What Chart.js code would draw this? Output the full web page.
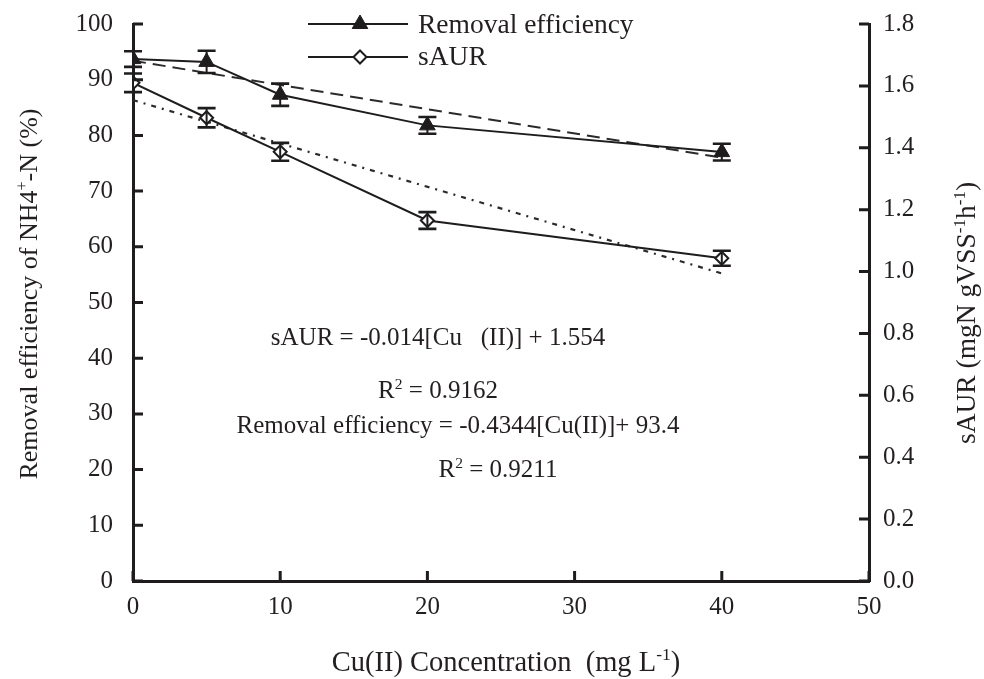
<!DOCTYPE html>
<html>
<head>
<meta charset="utf-8">
<script src="https://cdn.jsdelivr.net/npm/chart.js@4.4.1/dist/chart.umd.min.js"></script>
<style>
  html, body { margin: 0; padding: 0; background: #ffffff; }
  #wrap { width: 984px; height: 679px; position: relative; }
</style>
</head>
<body>
<div id="wrap"><canvas id="chart"></canvas></div>
<script>
// Cu(II) dose (mg/L) and the measured responses
const concentrations = [0, 5, 10, 20, 40];
const removalEfficiency = [93.7, 93.2, 87.3, 81.8, 77.0];   // %
const removalError = [1.4, 2.0, 2.0, 1.5, 1.5];
const sAUR = [1.610, 1.497, 1.387, 1.165, 1.043];           // mgN gVSS-1 h-1
const sAURError = [0.030, 0.031, 0.029, 0.027, 0.024];

// Linear fits, evaluated at both ends of the tested range
const trendX = [0, 40];
const removalTrend = [93.4, 76.0];
const sAURTrend = [1.554, 0.994];

// Axis ticks
const xTicks = [0, 10, 20, 30, 40, 50];
const leftTicks = [0, 10, 20, 30, 40, 50, 60, 70, 80, 90, 100];
const rightTicks = [0, 0.2, 0.4, 0.6, 0.8, 1.0, 1.2, 1.4, 1.6, 1.8];

const INK = '#1e1c1d';
const TEXT = '#231f20';
const SERIF = '"Liberation Serif", "Times New Roman", serif';

const pts = (xs, ys) => xs.map((x, i) => ({ x: x, y: ys[i] }));

// Draw a run of text pieces; pieces flagged sup are raised and shrunk.
function richText(ctx, parts, x, y, size, align) {
  ctx.save();
  ctx.fillStyle = TEXT;
  ctx.textBaseline = 'alphabetic';
  let w = 0;
  parts.forEach(p => {
    ctx.font = (p.sup ? size * 0.62 : size) + 'px ' + SERIF;
    w += ctx.measureText(p.t).width;
  });
  let cx = align === 'center' ? x - w / 2 : x;
  parts.forEach(p => {
    ctx.font = (p.sup ? size * 0.62 : size) + 'px ' + SERIF;
    ctx.textAlign = 'left';
    ctx.fillText(p.t, cx, p.sup ? y - size * 0.38 : y);
    cx += ctx.measureText(p.t).width;
  });
  ctx.restore();
}

// Error bars with caps, on top of the markers
const errorBars = {
  id: 'errorBars',
  afterDatasetsDraw(chart) {
    const ctx = chart.ctx;
    const sets = [
      { idx: 0, err: removalError, vals: removalEfficiency, scale: chart.scales.y },
      { idx: 1, err: sAURError, vals: sAUR, scale: chart.scales.y2 }
    ];
    ctx.save();
    ctx.strokeStyle = INK;
    sets.forEach(s => {
      const meta = chart.getDatasetMeta(s.idx);
      meta.data.forEach((el, i) => {
        const x = el.x;
        const top = s.scale.getPixelForValue(s.vals[i] + s.err[i]);
        const bot = s.scale.getPixelForValue(s.vals[i] - s.err[i]);
        ctx.lineWidth = 2;
        ctx.beginPath();
        ctx.moveTo(x, top); ctx.lineTo(x, bot);
        ctx.stroke();
        ctx.lineWidth = 2.6;
        ctx.beginPath();
        ctx.moveTo(x - 9, top); ctx.lineTo(x + 9, top);
        ctx.moveTo(x - 9, bot); ctx.lineTo(x + 9, bot);
        ctx.stroke();
      });
    });
    ctx.restore();
  }
};

// Inward tick marks, legend, equations and axis titles
const decorations = {
  id: 'decorations',
  afterDraw(chart) {
    const ctx = chart.ctx;
    const { x, y, y2 } = chart.scales;
    const area = chart.chartArea;
    ctx.save();
    ctx.strokeStyle = INK;
    ctx.lineWidth = 3;
    ctx.beginPath();
    leftTicks.forEach(v => {
      const p = y.getPixelForValue(v);
      ctx.moveTo(area.left, p); ctx.lineTo(area.left + 10, p);
    });
    rightTicks.forEach(v => {
      const p = y2.getPixelForValue(v);
      ctx.moveTo(area.right, p); ctx.lineTo(area.right - 10, p);
    });
    xTicks.forEach(v => {
      const p = x.getPixelForValue(v);
      ctx.moveTo(p, area.bottom); ctx.lineTo(p, area.bottom - 10);
    });
    ctx.stroke();

    // legend
    const legendRows = [
      { ds: chart.data.datasets[0], y: 24, base: 33 },
      { ds: chart.data.datasets[1], y: 57, base: 65 }
    ];
    legendRows.forEach(r => {
      ctx.strokeStyle = INK;
      ctx.lineWidth = 2.2;
      ctx.beginPath();
      ctx.moveTo(308, r.y); ctx.lineTo(408, r.y);
      ctx.stroke();
      ctx.fillStyle = r.ds.pointBackgroundColor;
      ctx.strokeStyle = INK;
      ctx.lineWidth = r.ds.pointBorderWidth;
      Chart.helpers.drawPoint(ctx, {
        pointStyle: r.ds.pointStyle,
        radius: r.ds.pointRadius,
        rotation: 0,
        borderWidth: r.ds.pointBorderWidth
      }, 360, r.y);
      richText(ctx, [{ t: r.ds.label }], 418, r.base, 27.5, 'left');
    });

    // regression equations
    richText(ctx, [{ t: 'sAUR = -0.014[Cu   (II)] + 1.554' }], 438, 345, 25, 'center');
    richText(ctx, [{ t: 'R' }, { t: '2', sup: true }, { t: ' = 0.9162' }], 438, 398, 25, 'center');
    richText(ctx, [{ t: 'Removal efficiency = -0.4344[Cu(II)]+ 93.4' }], 458, 433, 25, 'center');
    richText(ctx, [{ t: 'R' }, { t: '2', sup: true }, { t: ' = 0.9211' }], 498, 477, 25, 'center');

    // axis titles
    richText(ctx, [{ t: 'Cu(II) Concentration  (mg L' }, { t: '-1', sup: true }, { t: ')' }], 506, 671, 28.5, 'center');

    ctx.save();
    ctx.translate(37, 294);
    ctx.rotate(-Math.PI / 2);
    richText(ctx, [{ t: 'Removal efficiency of NH4' }, { t: '+', sup: true }, { t: '-N (%)' }], 0, 0, 26, 'center');
    ctx.restore();

    ctx.save();
    ctx.translate(975, 313);
    ctx.rotate(-Math.PI / 2);
    richText(ctx, [{ t: 'sAUR (mgN gVSS' }, { t: '-1', sup: true }, { t: 'h' }, { t: '-1', sup: true }, { t: ')' }], 0, 0, 27.5, 'center');
    ctx.restore();

    ctx.restore();
  }
};

const tickFont = { family: SERIF, size: 25 };

new Chart(document.getElementById('chart'), {
  type: 'scatter',
  data: {
    datasets: [
      {
        label: 'Removal efficiency',
        data: pts(concentrations, removalEfficiency),
        yAxisID: 'y',
        showLine: true,
        borderColor: INK,
        borderWidth: 2,
        pointStyle: 'triangle',
        pointRadius: 9,
        pointBackgroundColor: INK,
        pointBorderColor: INK,
        pointBorderWidth: 1,
        order: 1
      },
      {
        label: 'sAUR',
        data: pts(concentrations, sAUR),
        yAxisID: 'y2',
        showLine: true,
        borderColor: INK,
        borderWidth: 2,
        pointStyle: 'rectRot',
        pointRadius: 6.5,
        pointBackgroundColor: '#ffffff',
        pointBorderColor: INK,
        pointBorderWidth: 2,
        order: 1
      },
      {
        label: 'Removal efficiency fit',
        data: pts(trendX, removalTrend),
        yAxisID: 'y',
        showLine: true,
        borderColor: '#2b2b2b',
        borderWidth: 2,
        borderDash: [13, 7],
        pointRadius: 0,
        order: 2
      },
      {
        label: 'sAUR fit',
        data: pts(trendX, sAURTrend),
        yAxisID: 'y2',
        showLine: true,
        borderColor: '#2b2b2b',
        borderWidth: 2.2,
        borderDash: [5, 6, 2, 6],
        pointRadius: 0,
        order: 2
      }
    ]
  },
  options: {
    responsive: true,
    maintainAspectRatio: false,
    animation: false,
    events: [],
    layout: { padding: { top: 24, left: 0, right: 0, bottom: 0 } },
    plugins: {
      legend: { display: false },
      tooltip: { enabled: false },
      title: { display: false }
    },
    scales: {
      x: {
        type: 'linear',
        position: 'bottom',
        min: 0, max: 50,
        afterBuildTicks: s => { s.ticks = xTicks.map(v => ({ value: v })); },
        afterFit: s => { s.height = 98; s.paddingLeft = 0; s.paddingRight = 0; },
        grid: { display: false, drawTicks: false },
        border: { display: true, color: INK, width: 3 },
        ticks: { font: tickFont, color: TEXT, padding: 11, maxRotation: 0 }
      },
      y: {
        type: 'linear',
        position: 'left',
        min: 0, max: 100,
        afterBuildTicks: s => { s.ticks = leftTicks.map(v => ({ value: v })); },
        afterFit: s => { s.width = 133; s.paddingTop = 0; s.paddingBottom = 0; },
        grid: { display: false, drawTicks: false },
        border: { display: true, color: INK, width: 3 },
        ticks: { font: tickFont, color: TEXT, padding: 20 }
      },
      y2: {
        type: 'linear',
        position: 'right',
        min: 0, max: 1.8,
        afterBuildTicks: s => { s.ticks = rightTicks.map(v => ({ value: v })); },
        afterFit: s => { s.width = 115; s.paddingTop = 0; s.paddingBottom = 0; },
        grid: { display: false, drawTicks: false },
        border: { display: true, color: INK, width: 3 },
        ticks: {
          font: tickFont, color: TEXT, padding: 14,
          callback: v => Number(v).toFixed(1)
        }
      }
    }
  },
  plugins: [errorBars, decorations]
});
</script>
</body>
</html>
